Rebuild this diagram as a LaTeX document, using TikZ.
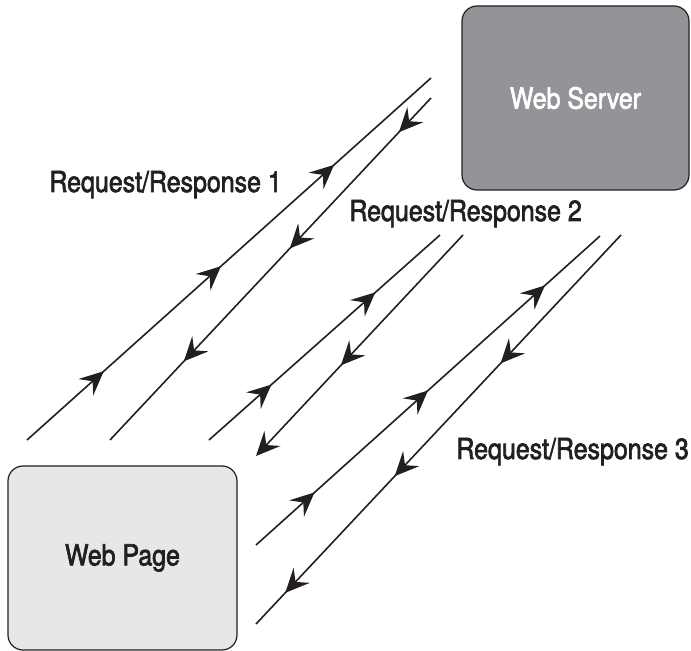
\documentclass[tikz,border=0pt]{standalone}
\usepackage{fontspec}
\setmainfont{TeX Gyre Heros}[FakeStretch=0.86, FakeBold=2.2]
\usetikzlibrary{arrows.meta,decorations.markings,positioning}
\definecolor{servergray}{RGB}{147,148,152}
\definecolor{pagegray}{RGB}{230,231,232}
\definecolor{inkblack}{RGB}{35,31,32}
\tikzset{
  >={Stealth[length=12pt,width=11pt,inset=4.5pt]},
  box/.style={draw=inkblack, line width=0.6pt, rounded corners=7.5pt,
              minimum height=92pt, inner sep=0pt,
              font=\fontsize{14.5}{17}\selectfont},
  lbl/.style={anchor=base west, inner sep=0pt, text=inkblack,
              font=\fontsize{14.5}{17}\selectfont},
  msg/.style={draw=inkblack, line width=0.8pt},
  flow/.style={postaction={decorate, decoration={markings,
               mark=at position #1 with {\arrow{>}}}}}
}

\begin{document}
\begin{tikzpicture}[x=0.5pt, y=-0.5pt]
  \useasboundingbox (0,0) rectangle (691,651);
  % the two ends
  \node (server) [box, fill=servergray, text=white, minimum width=113.5pt] at (575.5,98) {Web Server};
  \node (page) [box, fill=pagegray, text=inkblack, minimum width=114.5pt] at (122.5,558) {Web Page};
  % labels
  \node (lab1) [lbl] at (49,192) {Request/Response 1};
  \node (lab2) [lbl] at (349,221) {Request/Response 2};
  \node (lab3) [lbl] at (456,459) {Request/Response 3};
  % line ends
  \coordinate (q1a) at (27,440);  \coordinate (q1b) at (431,78);
  \coordinate (r1a) at (431,98);  \coordinate (r1b) at (110,440);
  \coordinate (q2a) at (209,440); \coordinate (q2b) at (440,235);
  \coordinate (r2a) at (463,235); \coordinate (r2b) at (256,456);
  \coordinate (q3a) at (256,545); \coordinate (q3b) at (600,236);
  \coordinate (r3a) at (621,235); \coordinate (r3b) at (256,624);
  % requests and responses
  \draw[msg, flow=0.19, flow=0.48, flow=0.76] (q1a) -- (q1b);
  \draw[msg, flow=0.10, flow=0.44, flow=0.77] (r1a) -- (r1b);
  \draw[msg, flow=0.27, flow=0.72] (q2a) -- (q2b);
  \draw[msg, flow=0.59, ->] (r2a) -- (r2b);
  \draw[msg, flow=0.17, flow=0.50, flow=0.84] (q3a) -- (q3b);
  \draw[msg, flow=0.33, flow=0.62, flow=0.92] (r3a) -- (r3b);
\end{tikzpicture}
\end{document}
